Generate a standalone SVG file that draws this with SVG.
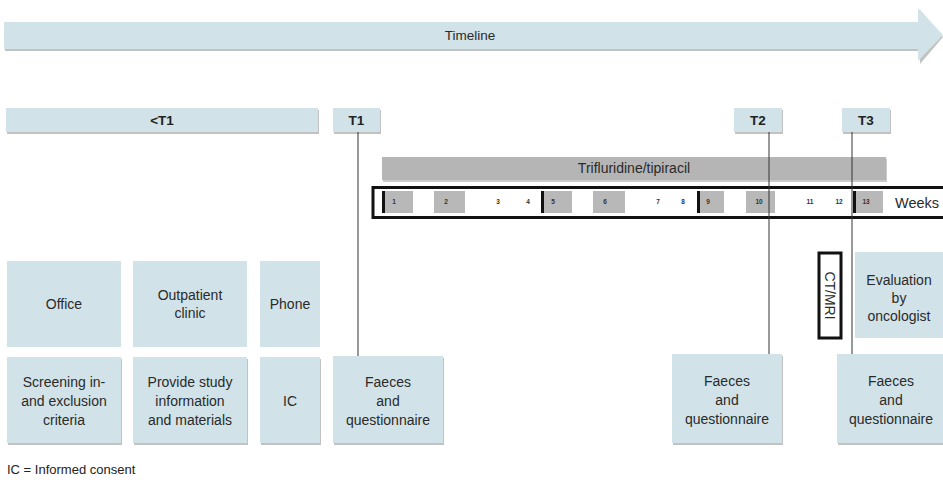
<svg xmlns="http://www.w3.org/2000/svg" width="943" height="483" viewBox="0 0 943 483">
<style>
.box{fill:#d1e3e8}
.sh{fill:#8f8f8f;opacity:0.55}
.t{font-family:"Liberation Sans",Arial,sans-serif;font-size:14px;fill:#2a2a2a;text-anchor:middle}
.tb{font-family:"Liberation Sans",Arial,sans-serif;font-size:13.5px;font-weight:bold;fill:#222;text-anchor:middle}
.wk{font-family:"Liberation Sans",Arial,sans-serif;font-size:6.5px;font-weight:bold;fill:#333;text-anchor:middle}
.cell{fill:#b8b8b8}
.bar{fill:#111}
.ln{stroke:#333;stroke-width:1;fill:none}
</style>
<rect width="943" height="483" fill="#fff"/>
<g id="timeline">
<polygon points="5,24 920,24 920,10 943,37 920,64 920,51 5,51" fill="#8f8f8f" opacity="0.55"/>
<polygon points="4,22 918,22 918,8 943,35 918,61 918,49 4,49" class="box"/>
<text x="470" y="40" class="t" style="font-size:13.5px">Timeline</text>
</g>
<g id="lt1">
<rect x="7" y="110" width="312" height="24" class="sh"/>
<rect x="6" y="108" width="312" height="24" class="box"/>
<text x="162" y="125" class="tb">&lt;T1</text>
</g>
<g id="t1">
<rect x="334" y="110" width="47" height="24" class="sh"/>
<rect x="333" y="108" width="47" height="24" class="box"/>
<text x="356.5" y="125" class="tb">T1</text>
</g>
<g id="t2">
<rect x="735" y="110" width="48" height="24" class="sh"/>
<rect x="734" y="108" width="48" height="24" class="box"/>
<text x="758" y="125" class="tb">T2</text>
</g>
<g id="t3">
<rect x="843" y="110" width="48" height="24" class="sh"/>
<rect x="842" y="108" width="48" height="24" class="box"/>
<text x="866" y="125" class="tb">T3</text>
</g>
<g id="drug">
<rect x="383" y="159" width="504" height="23" fill="#8f8f8f" opacity="0.45"/>
<rect x="382" y="157" width="504" height="23" fill="#b5b5b5"/>
<text x="634" y="173" class="t">Trifluridine/tipiracil</text>
</g>
<g id="weeks">
<rect x="373" y="187.5" width="580" height="30" fill="#fff" stroke="#111" stroke-width="3"/>
<rect x="382" y="191" width="31" height="22" class="cell"/><rect x="382" y="191" width="3" height="22" class="bar"/><text x="394" y="204" class="wk">1</text>
<rect x="434" y="191" width="31" height="22" class="cell"/><text x="446" y="204" class="wk">2</text>
<text x="498" y="204" class="wk">3</text>
<text x="528" y="204" class="wk">4</text>
<rect x="541" y="191" width="31" height="22" class="cell"/><rect x="541" y="191" width="3" height="22" class="bar"/><text x="553" y="204" class="wk">5</text>
<rect x="593" y="191" width="32" height="22" class="cell"/><text x="605" y="204" class="wk">6</text>
<text x="658" y="204" class="wk">7</text>
<text x="683" y="204" class="wk">8</text>
<rect x="697" y="191" width="27" height="22" class="cell"/><rect x="697" y="191" width="3" height="22" class="bar"/><text x="708" y="204" class="wk">9</text>
<rect x="746" y="191" width="29" height="22" class="cell"/><text x="759" y="204" class="wk">10</text>
<text x="810" y="204" class="wk">11</text>
<text x="839" y="204" class="wk">12</text>
<rect x="853" y="191" width="30" height="22" class="cell"/><rect x="853" y="191" width="3" height="22" class="bar"/><text x="866" y="204" class="wk">13</text>
<text x="917" y="208" class="t" style="font-size:14.5px">Weeks</text>
</g>
<g id="connectors">
<line x1="358" y1="132" x2="358" y2="356" class="ln"/>
<line x1="769" y1="132" x2="769" y2="354" class="ln"/>
<line x1="852" y1="132" x2="852" y2="354" class="ln"/>
</g>
<g id="office">
<rect x="7" y="261" width="114" height="86" class="box"/>
<text x="64" y="309" class="t">Office</text>
</g>
<g id="outpatient">
<rect x="133" y="261" width="114" height="86" class="box"/>
<text x="190" y="300" class="t">Outpatient</text>
<text x="190" y="318" class="t">clinic</text>
</g>
<g id="phone">
<rect x="260" y="261" width="60" height="86" class="box"/>
<text x="290" y="309" class="t">Phone</text>
</g>
<g id="screening">
<rect x="8" y="359" width="114" height="86" class="sh"/>
<rect x="7" y="357" width="114" height="86" class="box"/>
<text x="64" y="387" class="t">Screening in-</text>
<text x="64" y="406" class="t">and exclusion</text>
<text x="64" y="425" class="t">criteria</text>
</g>
<g id="provide">
<rect x="134" y="359" width="114" height="86" class="sh"/>
<rect x="133" y="357" width="114" height="86" class="box"/>
<text x="190" y="387" class="t">Provide study</text>
<text x="190" y="406" class="t">information</text>
<text x="190" y="425" class="t">and materials</text>
</g>
<g id="ic">
<rect x="261" y="359" width="60" height="86" class="sh"/>
<rect x="260" y="357" width="60" height="86" class="box"/>
<text x="290" y="406" class="t">IC</text>
</g>
<g id="faeces1">
<rect x="334" y="358" width="110" height="87" class="sh"/>
<rect x="333" y="356" width="110" height="87" class="box"/>
<text x="388" y="387" class="t">Faeces</text>
<text x="388" y="406" class="t">and</text>
<text x="388" y="425" class="t">questionnaire</text>
</g>
<g id="faeces2">
<rect x="673" y="356" width="110" height="89" class="sh"/>
<rect x="672" y="354" width="110" height="89" class="box"/>
<text x="727" y="386" class="t">Faeces</text>
<text x="727" y="405" class="t">and</text>
<text x="727" y="424" class="t">questionnaire</text>
</g>
<g id="faeces3">
<rect x="838" y="356" width="110" height="89" class="sh"/>
<rect x="837" y="354" width="110" height="89" class="box"/>
<text x="891" y="386" class="t">Faeces</text>
<text x="891" y="405" class="t">and</text>
<text x="891" y="424" class="t">questionnaire</text>
</g>
<g id="ctmri">
<rect x="819" y="253" width="22" height="85" fill="#fff" stroke="#111" stroke-width="3"/>
<text x="830" y="295.5" class="t" transform="rotate(90 830 295.5)" dy="5">CT/MRI</text>
</g>
<g id="evaluation">
<rect x="855" y="252" width="90" height="86" class="box"/>
<text x="899" y="285" class="t">Evaluation</text>
<text x="899" y="303" class="t">by</text>
<text x="899" y="321" class="t">oncologist</text>
</g>
<text x="7" y="474" style="font-family:'Liberation Sans',Arial,sans-serif;font-size:13px;fill:#222">IC = Informed consent</text>
</svg>
